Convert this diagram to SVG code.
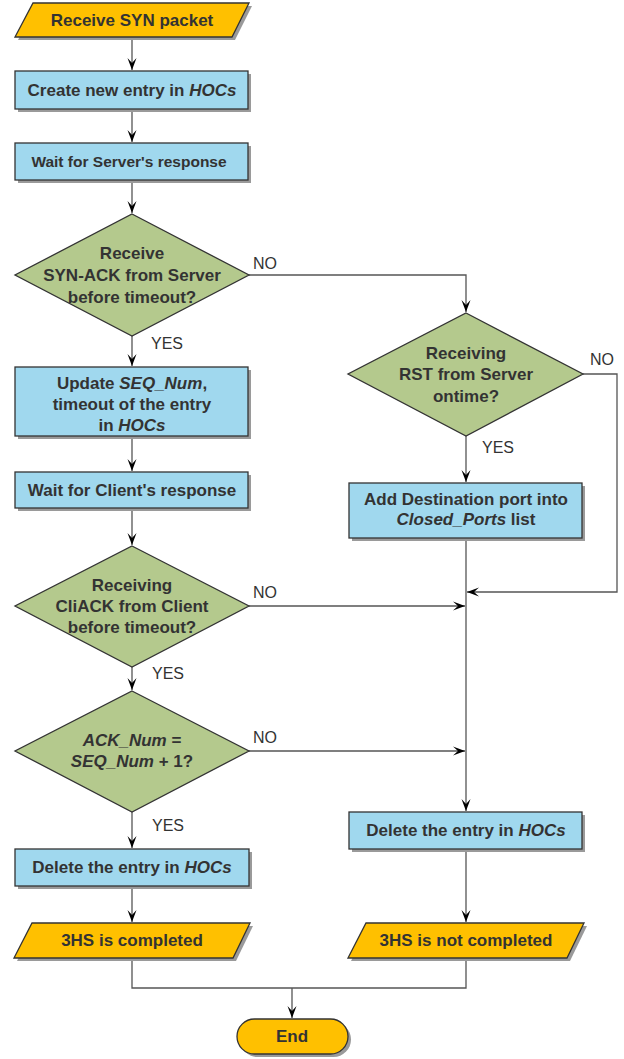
<svg xmlns="http://www.w3.org/2000/svg" width="624" height="1059" viewBox="0 0 624 1059">
  <style>
    .io { fill: #FFC000; stroke: #333; stroke-width: 1.3; }
    .proc { fill: #A0D8EE; stroke: #333; stroke-width: 1.3; }
    .dec { fill: #B4C98D; stroke: #333; stroke-width: 1.3; }
    .term { fill: #FFC000; stroke: #333; stroke-width: 1.3; }
    .shadow { fill: #9a9a9a; stroke: none; }
    .t { font-family: "Liberation Sans", Arial, sans-serif; font-size: 17px; font-weight: bold; fill: #333; text-anchor: middle; }
    .t.small { font-size: 15.5px; }
    .lbl { font-family: "Liberation Sans", Arial, sans-serif; font-size: 16px; fill: #333; }
    .conn { fill: none; stroke: #555; stroke-width: 1.3; }
  </style>
  <defs>
    <marker id="arrow" markerUnits="userSpaceOnUse" markerWidth="14" markerHeight="12" viewBox="-13 -6 14 12" refX="0" refY="0" orient="auto">
      <path d="M-12,-4.5 L0,0 L-12,4.5 L-7,0 z" fill="#000"/>
    </marker>
  </defs>

  <!-- connectors -->
  <g id="connectors">
    <path class="conn" d="M132,37 V70" marker-end="url(#arrow)"/>
    <path class="conn" d="M132,109 V142" marker-end="url(#arrow)"/>
    <path class="conn" d="M132,180 V213" marker-end="url(#arrow)"/>
    <path class="conn" d="M132,336 V366" marker-end="url(#arrow)"/>
    <path class="conn" d="M249,275 H466 V312" marker-end="url(#arrow)"/>
    <path class="conn" d="M132,436 V471" marker-end="url(#arrow)"/>
    <path class="conn" d="M132,508 V545" marker-end="url(#arrow)"/>
    <path class="conn" d="M466,436 V482" marker-end="url(#arrow)"/>
    <path class="conn" d="M583,374 H617 V592 H467" marker-end="url(#arrow)"/>
    <path class="conn" d="M466,538 V811" marker-end="url(#arrow)"/>
    <path class="conn" d="M249,606 H465" marker-end="url(#arrow)"/>
    <path class="conn" d="M132,667 V690" marker-end="url(#arrow)"/>
    <path class="conn" d="M249,751 H465" marker-end="url(#arrow)"/>
    <path class="conn" d="M132,812 V848" marker-end="url(#arrow)"/>
    <path class="conn" d="M132,886 V922" marker-end="url(#arrow)"/>
    <path class="conn" d="M466,849 V922" marker-end="url(#arrow)"/>
    <path class="conn" d="M132,958 V988 H466 V958"/>
    <path class="conn" d="M292,988 V1018" marker-end="url(#arrow)"/>
    <text class="lbl" x="253" y="269">NO</text>
    <text class="lbl" x="151" y="349">YES</text>
    <text class="lbl" x="590" y="365">NO</text>
    <text class="lbl" x="482" y="453">YES</text>
    <text class="lbl" x="253" y="598">NO</text>
    <text class="lbl" x="152" y="679">YES</text>
    <text class="lbl" x="253" y="743">NO</text>
    <text class="lbl" x="152" y="831">YES</text>
  </g>

  <g id="receive-syn">
    <polygon class="shadow" points="36,6 252,6 235,40 18,40"/>
    <polygon class="io" points="33,3 249,3 232,37 15,37"/>
    <text class="t" x="132" y="26">Receive SYN packet</text>
  </g>

  <g id="create-entry">
    <rect class="shadow" x="18" y="74" width="233" height="38"/>
    <rect class="proc" x="15" y="71" width="233" height="38"/>
    <text class="t" x="132" y="96">Create new entry in <tspan font-style="italic">HOCs</tspan></text>
  </g>

  <g id="wait-server">
    <rect class="shadow" x="18" y="146" width="233" height="37"/>
    <rect class="proc" x="15" y="143" width="233" height="37"/>
    <text class="t small" x="129" y="167">Wait for Server's response</text>
  </g>

  <g id="synack-decision">
    <polygon class="dec" points="132,214 249,275 132,336 15,275"/>
    <text class="t" x="132" y="259">Receive</text>
    <text class="t" x="132" y="281">SYN-ACK from Server</text>
    <text class="t" x="132" y="303">before timeout?</text>
  </g>

  <g id="update-seq">
    <rect class="shadow" x="18" y="370" width="233" height="69"/>
    <rect class="proc" x="15" y="367" width="233" height="69"/>
    <text class="t" x="132" y="389">Update <tspan font-style="italic">SEQ_Num</tspan>,</text>
    <text class="t" x="132" y="410">timeout of the entry</text>
    <text class="t" x="132" y="431">in <tspan font-style="italic">HOCs</tspan></text>
  </g>

  <g id="rst-decision">
    <polygon class="dec" points="466,313 583,374 466,436 348,374"/>
    <text class="t" x="466" y="359">Receiving</text>
    <text class="t" x="466" y="380">RST from Server</text>
    <text class="t" x="466" y="402">ontime?</text>
  </g>

  <g id="add-closed-port">
    <rect class="shadow" x="352" y="486" width="233" height="55"/>
    <rect class="proc" x="349" y="483" width="233" height="55"/>
    <text class="t" x="466" y="505">Add Destination port into</text>
    <text class="t" x="466" y="525"><tspan font-style="italic">Closed_Ports</tspan> list</text>
  </g>

  <g id="wait-client">
    <rect class="shadow" x="18" y="475" width="233" height="36"/>
    <rect class="proc" x="15" y="472" width="233" height="36"/>
    <text class="t" x="132" y="496">Wait for Client's response</text>
  </g>

  <g id="cliack-decision">
    <polygon class="dec" points="132,546 249,606 132,667 15,606"/>
    <text class="t" x="132" y="591">Receiving</text>
    <text class="t" x="132" y="612">CliACK from Client</text>
    <text class="t" x="132" y="633">before timeout?</text>
  </g>

  <g id="acknum-decision">
    <polygon class="dec" points="132,691 249,751 132,812 15,751"/>
    <text class="t" x="132" y="746"><tspan font-style="italic">ACK_Num</tspan> =</text>
    <text class="t" x="132" y="767"><tspan font-style="italic">SEQ_Num</tspan> + 1?</text>
  </g>

  <g id="delete-entry-left">
    <rect class="shadow" x="18" y="852" width="234" height="37"/>
    <rect class="proc" x="15" y="849" width="234" height="37"/>
    <text class="t" x="132" y="873">Delete the entry in <tspan font-style="italic">HOCs</tspan></text>
  </g>

  <g id="delete-entry-right">
    <rect class="shadow" x="352" y="815" width="233" height="37"/>
    <rect class="proc" x="349" y="812" width="233" height="37"/>
    <text class="t" x="466" y="836">Delete the entry in <tspan font-style="italic">HOCs</tspan></text>
  </g>

  <g id="hs-completed">
    <polygon class="shadow" points="35,926 253,926 236,961 17,961"/>
    <polygon class="io" points="32,923 250,923 233,958 14,958"/>
    <text class="t" x="132" y="946">3HS is completed</text>
  </g>

  <g id="hs-not-completed">
    <polygon class="shadow" points="369,926 587,926 570,961 351,961"/>
    <polygon class="io" points="366,923 584,923 567,958 348,958"/>
    <text class="t" x="466" y="946">3HS is not completed</text>
  </g>

  <g id="end">
    <rect class="shadow" x="240" y="1022" width="111" height="35" rx="17.5"/>
    <rect class="term" x="237" y="1019" width="111" height="35" rx="17.5"/>
    <text class="t" x="292" y="1042">End</text>
  </g>
</svg>
